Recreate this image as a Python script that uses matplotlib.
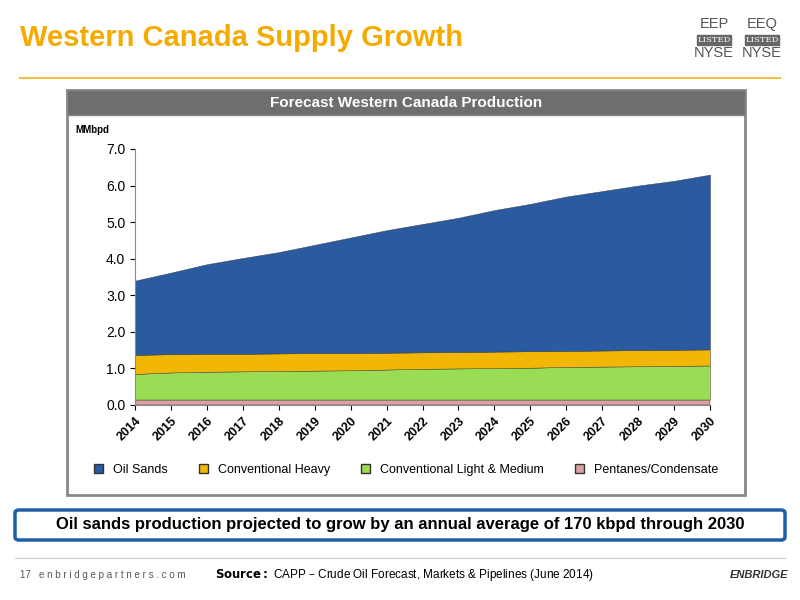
import matplotlib
matplotlib.use("Agg")
import matplotlib.pyplot as plt
from matplotlib.patches import Rectangle, FancyBboxPatch, Patch
import numpy as np
plt.rcParams['font.family'] = ['Liberation Sans', 'DejaVu Sans']

years = list(range(2014, 2031))
pentanes = [0.15]*17
conv_light = [0.70,0.74,0.76,0.77,0.78,0.79,0.80,0.82,0.84,0.85,0.86,0.87,0.89,0.90,0.91,0.92,0.93]
conv_heavy = [0.52,0.50,0.49,0.48,0.48,0.48,0.47,0.46,0.45,0.45,0.45,0.45,0.44,0.44,0.44,0.44,0.44]
totals = [3.4,3.62,3.85,4.02,4.18,4.38,4.58,4.78,4.95,5.12,5.33,5.5,5.7,5.85,6.0,6.13,6.3]
oil_sands = [t-p-l-h for t,p,l,h in zip(totals,pentanes,conv_light,conv_heavy)]
labels = ["Oil Sands","Conventional Heavy","Conventional Light & Medium","Pentanes/Condensate"]
colors = ["#2a5aa0","#f2b705","#99dd55","#d9a0a0"]

fig = plt.figure(figsize=(8,6), dpi=100)
W,H = 800,600
def fx(x): return x/W
def fy(y): return 1-y/H

fig.text(fx(20),fy(38),"Western Canada Supply Growth",color="#f5aa00",fontsize=21,fontweight="bold",va="center")
fig.add_artist(plt.Line2D([fx(20),fx(780)],[fy(78),fy(78)],color="#f0c040",lw=1.5))
for x0,t in [(714,"EEP"),(762,"EEQ")]:
    fig.text(fx(x0),fy(24),t,fontsize=10.5,color="#555",ha="center",va="center")
    fig.add_artist(Rectangle((fx(x0-17),fy(45)),34/W,10/H,color="#666"))
    fig.text(fx(x0),fy(40),"LISTED",fontsize=6,color="white",ha="center",va="center",family="serif")
    fig.text(fx(x0),fy(53),"NYSE",fontsize=10.5,color="#555",ha="center",va="center")

fig.add_artist(Rectangle((fx(67),fy(495)),(745-67)/W,(495-90)/H,fc="white",ec="#888",lw=2,zorder=0))
fig.add_artist(Rectangle((fx(67),fy(115)),(745-67)/W,25/H,fc="#6e6e6e",ec="#888",zorder=0))
fig.text(fx(406),fy(103),"Forecast Western Canada Production",color="white",fontsize=11,fontweight="bold",ha="center",va="center")

ax = fig.add_axes([fx(135),fy(405),(710-135)/W,(405-149)/H])
ax.set_zorder(3)
ax.patch.set_alpha(0)
ax.stackplot(years,pentanes,conv_light,conv_heavy,oil_sands,colors=[colors[3],colors[2],colors[1],colors[0]],edgecolor="#333",linewidth=0.3)
ax.set_xlim(2014,2030); ax.set_ylim(0,7)
ax.set_yticks(np.arange(0,7.1,1)); ax.set_yticklabels([f"{v:.1f}" for v in np.arange(0,7.1,1)],fontsize=10)
ax.set_xticks(years); ax.set_xticklabels([str(y) for y in years],rotation=45,fontsize=9,fontweight="bold",ha="right",rotation_mode="anchor")
for s in ["top","right"]: ax.spines[s].set_visible(False)
ax.spines["left"].set_color("#888"); ax.spines["bottom"].set_color("#888")
fig.text(fx(75),fy(130),"MMbpd",fontsize=7,fontweight="bold",va="center")

handles=[Patch(fc=c,ec="#333") for c in colors]
fig.legend(handles,labels,loc="center",bbox_to_anchor=(fx(406),fy(470)),ncol=4,frameon=False,fontsize=9,handlelength=0.7,handleheight=0.7,columnspacing=2.5)

fig.add_artist(FancyBboxPatch((fx(15),fy(540)),(785-15)/W,(540-510)/H,boxstyle="round,pad=0,rounding_size=0.005",fc="white",ec="#1f5fa8",lw=2.5))
fig.text(fx(400),fy(525),"Oil sands production projected to grow by an annual average of 170 kbpd through 2030",fontsize=12,fontweight="bold",ha="center",va="center")
fig.add_artist(plt.Line2D([fx(15),fx(785)],[fy(558),fy(558)],color="#ccc",lw=0.8))
fig.text(fx(20),fy(575),"17   e n b r i d g e p a r t n e r s . c o m",fontsize=7,color="#555",va="center")
fig.text(fx(215),fy(575),r"$\bf{Source:}$ CAPP – Crude Oil Forecast, Markets & Pipelines (June 2014)",fontsize=8.5,va="center")
fig.text(fx(730),fy(575),"ENBRIDGE",fontsize=8,fontweight="bold",style="italic",color="#333",va="center")
fig.savefig("out.png",dpi=100)
